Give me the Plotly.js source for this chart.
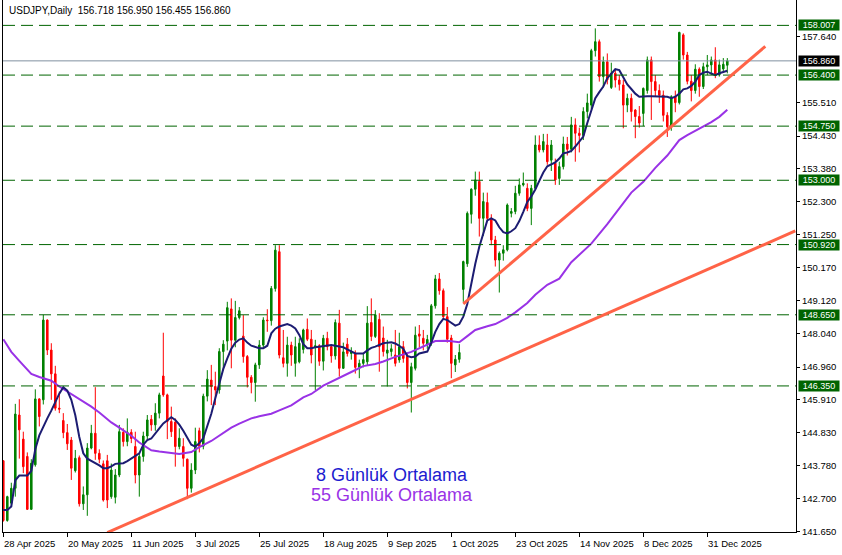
<!DOCTYPE html>
<html><head><meta charset="utf-8">
<script src="https://cdn.plot.ly/plotly-3.0.1.min.js"></script>
<style>html,body{margin:0;padding:0;background:#fff;}#chart{width:842px;height:555px;}</style>
</head><body><div id="chart"></div>
<script>
// ---- data (USDJPY daily, bar index 0 = 28 Apr 2025) ----
const openP = [143.93,142.00,142.56,143.04,145.41,144.63,144.07,142.36,143.80,145.93,
145.90,148.48,147.51,146.74,145.63,145.23,144.84,144.60,143.61,144.03,
142.54,142.83,144.34,144.82,144.17,143.83,143.93,142.77,142.75,143.47,
144.85,144.55,144.85,144.39,143.47,144.07,144.73,145.27,145.09,145.47,
146.67,146.06,145.20,145.18,144.39,144.39,143.98,143.04,143.63,144.90,
144.40,146.02,146.54,146.33,146.22,147.46,147.80,148.84,147.83,148.56,
147.96,147.30,146.63,146.46,147.03,147.67,148.48,148.46,149.50,150.69,
147.26,147.08,147.67,147.08,147.13,147.53,148.18,147.86,147.60,147.65,
147.15,147.89,147.62,147.32,148.38,146.92,147.70,147.40,147.38,146.95,
147.08,147.13,148.40,147.95,148.50,147.90,147.41,147.46,147.35,147.19,
147.62,147.30,146.46,146.92,148.03,147.89,147.70,147.73,148.94,149.81,
149.43,148.59,147.90,147.03,147.21,149.47,150.30,151.90,152.71,152.96,
151.77,152.28,151.77,151.07,150.42,150.64,150.75,151.93,151.99,152.58,
152.85,152.74,152.09,152.74,154.14,153.98,154.14,153.65,153.55,153.06,
153.44,154.17,154.00,154.79,154.52,154.45,155.22,155.43,157.19,157.48,
156.35,156.83,156.00,156.46,156.24,156.08,155.43,155.65,155.27,155.06,
155.16,155.90,156.89,156.19,155.90,155.75,155.10,154.73,155.70,155.51,
157.70,157.05,156.20,155.90,156.59,156.03,156.67,156.73,156.89,156.40,
156.60,156.718];
const highP = [143.95,142.80,143.22,145.77,145.92,144.87,144.20,143.98,146.24,145.95,
148.65,148.50,147.73,147.00,146.17,145.47,145.12,144.70,144.28,144.10,
143.10,144.50,145.09,146.31,144.30,143.94,144.12,143.84,143.66,145.09,
144.98,145.30,144.95,144.87,144.17,144.87,145.41,145.41,145.79,146.13,
148.07,146.10,145.68,145.30,144.98,144.66,144.00,143.85,145.00,145.00,
146.10,146.86,147.03,146.81,147.57,147.83,149.07,149.18,149.10,148.90,
148.64,147.35,146.70,147.10,147.83,148.57,148.83,149.58,150.90,150.90,
148.16,147.94,147.78,147.94,147.89,148.20,148.53,148.16,147.84,147.70,
148.00,148.10,147.70,148.50,148.81,147.75,147.90,147.60,147.50,147.20,
147.40,148.93,149.18,148.80,148.70,148.27,147.84,147.70,148.16,148.07,
147.80,147.40,147.10,148.27,148.32,148.16,148.00,149.00,149.94,150.00,
149.50,148.90,148.00,147.35,147.70,150.40,151.99,152.74,153.28,153.28,
152.60,152.60,151.90,151.20,150.70,150.90,152.25,152.10,152.82,153.06,
153.25,152.90,152.85,154.45,154.45,154.50,154.50,154.30,153.70,153.60,
154.41,154.40,155.05,155.00,154.70,155.36,155.80,157.25,157.91,157.55,
157.00,157.10,156.80,156.60,156.40,156.25,155.80,155.80,155.30,155.40,
156.00,157.00,157.00,156.40,156.10,155.90,155.20,155.75,155.90,157.80,
157.75,157.15,156.40,156.75,156.65,156.80,157.05,157.00,157.30,156.90,
156.95,156.950];
const lowP = [141.96,141.96,142.45,142.77,144.00,143.53,142.34,142.34,143.74,145.04,
145.75,147.35,145.90,145.55,145.47,144.66,144.28,143.31,143.55,142.45,
142.34,142.15,144.30,143.96,143.85,142.61,142.40,142.70,142.55,143.40,
144.39,144.40,144.50,143.20,142.77,143.90,144.60,144.90,144.90,145.30,
146.00,144.63,144.70,143.74,144.30,143.74,142.69,142.90,143.50,144.20,
144.30,145.85,145.73,145.73,146.10,146.87,147.50,146.92,147.60,148.50,
147.10,146.30,146.11,145.84,146.90,147.60,148.10,148.30,149.40,147.24,
146.95,146.65,147.00,146.65,147.08,147.40,147.80,147.08,146.22,147.00,
146.85,147.50,147.10,147.20,146.65,146.90,147.30,147.20,146.75,146.60,
146.95,147.00,147.80,147.90,146.81,147.30,146.33,147.30,146.98,147.10,
147.10,146.27,145.49,146.85,147.60,147.50,147.55,147.65,148.85,149.30,
148.50,147.75,146.60,146.80,147.10,149.07,150.20,151.60,152.50,151.18,
151.20,151.70,150.90,150.21,149.37,150.40,150.70,151.80,151.90,152.50,
152.80,152.00,151.55,152.70,153.90,153.90,153.50,153.30,152.85,152.85,
153.35,153.80,153.90,153.60,153.90,154.30,155.00,155.30,157.00,156.19,
156.00,156.10,155.95,156.00,155.90,154.68,155.20,154.90,154.36,154.70,
154.75,155.80,154.95,155.70,155.50,154.90,154.40,154.60,155.20,155.45,
156.90,156.10,155.55,155.80,155.70,155.95,156.40,156.40,156.30,156.35,
156.50,156.455];
const closeP = [142.00,142.77,143.04,145.44,144.93,143.74,142.36,143.85,145.93,145.36,
148.48,147.51,146.74,145.63,145.60,144.84,144.48,143.69,144.01,142.54,
142.83,144.34,144.82,144.17,143.98,142.66,142.66,143.63,143.47,144.87,
144.55,144.85,144.65,143.47,144.07,144.73,145.25,145.09,145.47,146.06,
146.06,145.20,144.87,144.39,144.66,144.01,143.04,143.63,144.55,144.40,
146.02,146.57,146.33,146.22,147.46,147.70,148.88,147.83,148.56,148.78,
147.30,146.63,146.46,147.03,147.67,148.48,148.46,149.50,150.74,147.35,
147.08,147.67,147.35,147.62,147.73,148.16,147.86,147.35,147.65,147.15,
147.89,147.62,147.32,148.40,146.92,147.45,147.40,147.45,146.95,147.08,
147.20,148.38,147.95,148.65,147.62,147.46,147.51,147.55,147.08,147.62,
147.24,146.46,146.97,147.99,147.96,147.73,147.85,148.94,149.81,149.43,
148.59,147.86,147.08,147.21,147.43,150.37,151.93,152.71,153.01,151.77,
152.31,151.77,151.07,150.42,150.64,150.75,152.20,151.99,152.58,152.85,
152.90,152.09,152.74,154.14,153.98,154.25,153.60,154.14,153.01,153.44,
154.17,154.00,154.79,154.52,154.45,155.22,155.50,157.19,157.48,156.35,
156.83,156.25,156.46,156.24,156.10,155.43,155.65,155.22,155.06,154.85,
155.97,156.89,156.19,155.90,155.75,155.10,154.73,155.70,155.51,157.78,
157.05,156.20,155.90,156.59,156.03,156.67,156.73,156.89,156.40,156.73,
156.75,156.860];

// 8-day moving average (navy), read at bar indices
const ma8Bars = [0,1,2,3,4,5,6,7,8,9,10,11,12,13,14,15,16,17,18,19,20,21,22,23,24,25,26,27,28,29,30,31,32,33,34,35,36,37,38,39,40,41,42,43,44,45,46,47,48,49,50,51,52,53,54,55,56,57,58,59,60,61,62,63,64,65,66,67,68,69,70,71,72,73,74,75,76,77,78,79,80,81,82,83,84,85,86,87,88,89,90,91,92,93,94,95,96,97,98,99,100,101,102,103,104,105,106,107,108,109,110,111,112,113,114,115,116,117,118,119,120,121,122,123,124,125,126,127,128,129,130,131,132,133,134,135,136,137,138,139,140,141,142,143,144,145,146,147,148,149,150,151,152,153,154,155,156,157,158,159,160,161,162,163,164,165,166,167,168,169,170,171,172,173,174,175,176,177,178,179,180,181];
const ma8Vals = [142.34,142.34,142.45,143.30,143.45,143.45,143.45,143.60,144.30,144.75,
145.04,145.30,145.55,145.85,146.10,146.31,146.20,145.90,145.40,144.70,
144.17,144.00,143.93,143.85,143.78,143.69,143.69,143.75,143.83,143.84,
143.85,143.92,144.00,144.08,144.17,144.45,144.60,144.65,144.80,144.98,
145.14,145.25,145.34,145.25,145.10,144.90,144.65,144.45,144.39,144.50,
144.66,145.05,145.45,145.95,146.44,146.90,147.24,147.55,147.75,147.85,
147.89,147.75,147.65,147.62,147.57,147.57,147.65,148.05,148.20,148.27,
148.30,148.35,148.30,148.21,148.00,147.70,147.57,147.57,147.60,147.62,
147.65,147.67,147.67,147.65,147.62,147.60,147.53,147.46,147.40,147.40,
147.40,147.50,147.58,147.62,147.68,147.73,147.75,147.76,147.72,147.65,
147.55,147.32,147.28,147.30,147.40,147.43,147.46,147.75,148.10,148.35,
148.52,148.48,148.38,148.30,148.35,148.59,149.00,149.70,150.30,150.85,
151.28,151.70,151.77,151.70,151.48,151.32,151.28,151.35,151.45,151.68,
151.98,152.30,152.48,152.70,152.98,153.25,153.45,153.52,153.58,153.70,
153.87,153.90,153.95,154.09,154.25,154.41,154.85,155.25,155.65,155.85,
156.03,156.30,156.45,156.59,156.56,156.35,156.10,155.95,155.80,155.70,
155.72,155.72,155.72,155.72,155.72,155.70,155.70,155.65,155.70,155.80,
155.94,155.97,156.05,156.19,156.40,156.48,156.51,156.45,156.40,156.46,
156.50,156.54];
// 55-day moving average (purple), read at bar indices
const ma55Bars = [0,2,4,7,9,12,14,17,19,22,24,27,29,32,34,37,39,42,44,47,49,52,54,57,59,62,64,67,69,72,75,77,80,82,85,87,90,93,95,98,102,105,108,111,114,116,118,121,123,126,128,131,133,136,139,142,145,147,151,154,157,160,163,166,169,171,174,177,179,181];
const ma55Vals = [147.86,147.45,147.16,146.74,146.64,146.52,146.33,146.09,145.93,145.68,145.49,145.17,145.00,144.74,144.52,144.27,144.23,144.17,144.15,144.21,144.37,144.57,144.75,145.00,145.13,145.30,145.37,145.45,145.56,145.72,145.98,146.09,146.36,146.48,146.67,146.80,146.99,147.06,147.14,147.29,147.45,147.62,147.80,147.81,147.76,147.96,148.16,148.28,148.35,148.55,148.73,149.03,149.30,149.62,149.82,150.35,150.72,150.95,151.58,152.08,152.60,152.95,153.40,153.80,154.30,154.46,154.67,154.88,155.05,155.28];

// trend lines: two anchor points each (bar index, price)
const trendLowBars = [26, 198];
const trendLowPrices = [141.61, 151.36];
const trendHighBars = [115, 190.5];
const trendHighPrices = [149.00, 157.33];

// horizontal levels and current price
const levels = [158.007, 156.400, 154.750, 153.000, 150.920, 148.650, 146.350];
const lastPrice = 156.860;

// axis tick labels (156.590 is hidden behind the price boxes in the reference)
const priceTicks = [141.650,142.700,143.780,144.830,145.910,146.960,148.040,149.120,150.170,151.250,152.300,153.380,154.430,155.510,157.640];
const dateLabelBars = [0,16,32,48,64,80,96,112,128,144,160,176];
const dateLabels = ['28 Apr 2025','20 May 2025','11 Jun 2025','3 Jul 2025','25 Jul 2025','18 Aug 2025','9 Sep 2025','1 Oct 2025','23 Oct 2025','14 Nov 2025','8 Dec 2025','31 Dec 2025'];
const titleText = 'USDJPY,Daily\u00a0\u00a0156.718 156.950 156.455 156.860';
const legend8 = '8 Günlük Ortalama';
const legend55 = '55 Günlük Ortalama';

// ---- build ----
const barX = openP.map((_, i) => i);
const FONT = 'Liberation Sans, Arial, sans-serif';
const GREEN = '#008000', RED = '#ff0000', LVL = '#006400';

const traces = [
  {type:'candlestick', x:barX, open:openP, high:highP, low:lowP, close:closeP,
   increasing:{line:{color:GREEN,width:1}, fillcolor:GREEN},
   decreasing:{line:{color:RED,width:1}, fillcolor:RED},
   whiskerwidth:0, hoverinfo:'skip', showlegend:false},
  {type:'scatter', mode:'lines', x:ma55Bars, y:ma55Vals, line:{color:'#9932e6', width:2}, hoverinfo:'skip', showlegend:false},
  {type:'scatter', mode:'lines', x:ma8Bars, y:ma8Vals, line:{color:'#1c1c72', width:2}, hoverinfo:'skip', showlegend:false}
];

const shapes = [];
levels.forEach(v => shapes.push({type:'line', xref:'paper', x0:0, x1:1, yref:'y', y0:v, y1:v,
  line:{color:LVL, width:1, dash:'12px,6px'}}));
shapes.push({type:'line', xref:'paper', x0:0, x1:1, yref:'y', y0:lastPrice, y1:lastPrice, line:{color:'#8090a0', width:1}});
shapes.push({type:'line', xref:'x', yref:'y', x0:trendLowBars[0], x1:trendLowBars[1], y0:trendLowPrices[0], y1:trendLowPrices[1], line:{color:'#ff6347', width:3}});
shapes.push({type:'line', xref:'x', yref:'y', x0:trendHighBars[0], x1:trendHighBars[1], y0:trendHighPrices[0], y1:trendHighPrices[1], line:{color:'#ff6347', width:3}});

const annotations = [];
annotations.push({xref:'paper', yref:'paper', x:0, y:1, xanchor:'left', yanchor:'top', xshift:4, yshift:-3,
  text:titleText, showarrow:false, font:{family:FONT, size:10, color:'#000'}});
dateLabels.forEach((t, k) => annotations.push({xref:'x', yref:'paper', x:dateLabelBars[k], y:0, xanchor:'left', yanchor:'top',
  xshift:-1, yshift:-4, text:t, showarrow:false, font:{family:FONT, size:9.5, color:'#000'}}));
levels.forEach(v => annotations.push({xref:'paper', yref:'y', x:1, y:v, xanchor:'left', yanchor:'middle', xshift:2,
  text:v.toFixed(3), showarrow:false, bgcolor:LVL, borderpad:0, width:40, height:10, align:'center',
  font:{family:FONT, size:9, color:'#fff'}}));
annotations.push({xref:'paper', yref:'y', x:1, y:lastPrice, xanchor:'left', yanchor:'middle', xshift:2,
  text:lastPrice.toFixed(3), showarrow:false, bgcolor:'#000', borderpad:0, width:40, height:10, align:'center',
  font:{family:FONT, size:9, color:'#fff'}});
annotations.push({xref:'paper', yref:'paper', x:0.4905, y:0.107, xanchor:'center', yanchor:'middle',
  text:legend8, showarrow:false, font:{family:FONT, size:18, color:'#1c1cd0'}});
annotations.push({xref:'paper', yref:'paper', x:0.4905, y:0.069, xanchor:'center', yanchor:'middle',
  text:legend55, showarrow:false, font:{family:FONT, size:18, color:'#9932e6'}});

const layout = {
  width:842, height:555,
  margin:{l:3, r:46, t:0, b:23, pad:0},
  paper_bgcolor:'#fff', plot_bgcolor:'#fff',
  showlegend:false, hovermode:false, dragmode:false,
  boxgap:0.45,
  xaxis:{range:[-0.075, 198.175], showgrid:false, zeroline:false, showline:true, linecolor:'#000', linewidth:1,
    tickvals:dateLabelBars, ticks:'outside', ticklen:4, tickcolor:'#000', showticklabels:false,
    rangeslider:{visible:false}, fixedrange:true},
  yaxis:{side:'right', range:[141.627, 158.828], showgrid:false, zeroline:false, showline:true, mirror:true,
    linecolor:'#000', linewidth:1, tickvals:priceTicks, ticktext:priceTicks.map(v => v.toFixed(3)),
    ticks:'outside', ticklen:3, tickcolor:'#000', tickfont:{family:FONT, size:9.5, color:'#000'}, fixedrange:true},
  shapes:shapes, annotations:annotations
};

Plotly.newPlot('chart', traces, layout, {staticPlot:true, displayModeBar:false});
</script>
</body></html>
